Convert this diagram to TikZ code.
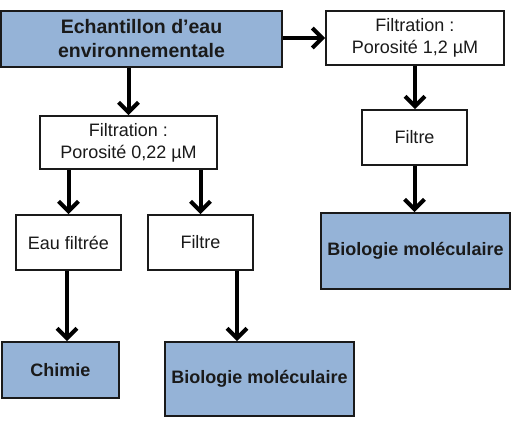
\documentclass[tikz,border=0pt]{standalone}
\usepackage{fontspec}
\setmainfont{Liberation Sans}
\usetikzlibrary{arrows.meta}
\definecolor{boxblue}{HTML}{95B3D7}
\definecolor{ink}{HTML}{1A1A1A}
\tikzset{
  whitebox/.style={draw=ink, line width=1.8pt, fill=white, inner sep=0pt, align=center,
    font=\fontsize{18}{22}\selectfont, text=ink},
  bluebox/.style={draw=ink, line width=1.8pt, fill=boxblue, inner sep=0pt, align=center,
    font=\bfseries\fontsize{18}{22}\selectfont, text=ink},
  flow/.style={line width=4pt, draw=black, -{Straight Barb[length=10pt,width=20pt]}},
}
\begin{document}
\begin{tikzpicture}[x=1pt,y=-1pt]
\useasboundingbox (0,0) rectangle (516,423);
% nodes
\node[bluebox, minimum width=281pt, minimum height=56pt, font=\bfseries\fontsize{19.5}{24}\selectfont] (b1) at (141.5,39) {Echantillon d’eau\\environnementale};
\node[whitebox, minimum width=178pt, minimum height=54pt] (b2) at (415,38) {Filtration :\\Porosité 1,2 µM};
\node[whitebox, minimum width=177pt, minimum height=53pt] (b3) at (128.5,142.5) {Filtration :\\Porosité 0,22 µM};
\node[whitebox, minimum width=105pt, minimum height=55pt] (b4) at (414.5,137.5) {Filtre};
\node[bluebox, minimum width=189pt, minimum height=76pt] (b5) at (415.5,251) {Biologie moléculaire};
\node[whitebox, minimum width=105pt, minimum height=55pt] (b6) at (68.5,242.5) {Eau filtrée};
\node[whitebox, minimum width=105pt, minimum height=55pt] (b7) at (200.5,242.5) {Filtre};
\node[bluebox, minimum width=117pt, minimum height=56pt] (b8) at (60.5,370) {Chimie};
\node[bluebox, minimum width=189pt, minimum height=74pt] (b9) at (259.5,379) {Biologie moléculaire};
% connectors
\draw[flow] (b1.east |- b2.west) -- (b2.west);
\draw[flow] (b3.north |- b1.south) -- (b3.north);
\draw[flow] (b6.north |- b3.south) -- (b6.north);
\draw[flow] (b7.north |- b3.south) -- (b7.north);
\draw[flow] ([xshift=-1.5pt]b6.south) -- ([xshift=-1.5pt]b6.south |- b8.north);
\draw[flow] ([xshift=36.5pt]b7.south) -- ([xshift=36.5pt]b7.south |- b9.north);
\draw[flow] (b2.south) -- (b2.south |- b4.north);
\draw[flow] (b4.south) -- (b4.south |- b5.north);
\end{tikzpicture}
\end{document}
